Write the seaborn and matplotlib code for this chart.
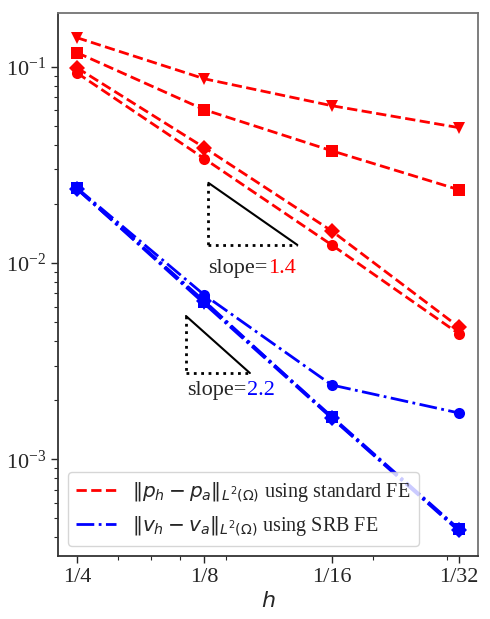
import matplotlib
matplotlib.use("Agg")
import matplotlib.pyplot as plt
import seaborn as sns
from matplotlib.lines import Line2D
from matplotlib.ticker import NullFormatter

# DATA
n_values = [4, 8, 16, 32]
h_labels = ["1/4", "1/8", "1/16", "1/32"]
markers = ["v", "s", "D", "o"]

red_series = [
    [0.1406, 0.0868, 0.0633, 0.0489],
    [0.118, 0.0604, 0.0373, 0.0236],
    [0.0988, 0.0387, 0.01456, 0.00471],
    [0.093, 0.034, 0.01236, 0.00435],
]
blue_series = [
    [0.0239, 0.0062, 0.00162, 0.00043],
    [0.0240, 0.0063, 0.00165, 0.00044],
    [0.0238, 0.0064, 0.00163, 0.000435],
    [0.0241, 0.00687, 0.00239, 0.00172],
]

# slope triangles (x in n, y in error)
tri1_x = [8.18, 13.27]
tri1_y = [0.0256, 0.01236]
tri2_x = [7.24, 10.25]
tri2_y = [0.00537, 0.00275]

sns.set_style("ticks")
plt.rcParams["font.family"] = "serif"
plt.rcParams["font.serif"] = ["Liberation Serif", "DejaVu Serif"]
plt.rcParams["mathtext.fontset"] = "stix"

fig, ax = plt.subplots(figsize=(4.9, 6.19), dpi=100)
fig.subplots_adjust(left=0.118, right=0.976, top=0.979, bottom=0.102)

for vals, m in zip(red_series, markers):
    sns.lineplot(x=n_values, y=vals, ax=ax, color="red", linestyle="--",
                 linewidth=2, marker=m, markersize=8, markeredgewidth=0)
for vals, m in zip(blue_series, markers):
    sns.lineplot(x=n_values, y=vals, ax=ax, color="blue", linestyle="-.",
                 linewidth=2, marker=m, markersize=8, markeredgewidth=0)

ax.set_xscale("log")
ax.set_yscale("log")

# slope triangles
for tx, ty in [(tri1_x, tri1_y), (tri2_x, tri2_y)]:
    ax.plot(tx, ty, color="black", linewidth=1.5)
    ax.plot([tx[0], tx[0]], [ty[0], ty[1]], color="black", linestyle=":", linewidth=2)
    ax.plot([tx[0], tx[1]], [ty[1], ty[1]], color="black", linestyle=":", linewidth=2)

t1 = ax.text(tri1_x[0], 0.00942, "slope=", fontsize=16, va="center", ha="left")
ax.annotate("1.4", xycoords=t1, xy=(1, 0.5), va="center", ha="left",
            fontsize=16, color="red")
t2 = ax.text(7.3, 0.00225, "slope=", fontsize=16, va="center", ha="left")
ax.annotate("2.2", xycoords=t2, xy=(1, 0.5), va="center", ha="left",
            fontsize=16, color="blue")

ax.set_xticks(n_values)
ax.set_xticklabels(h_labels)
ax.xaxis.set_minor_formatter(NullFormatter())
ax.yaxis.set_minor_formatter(NullFormatter())
ax.tick_params(axis="both", which="major", labelsize=16, length=5, width=1)
ax.tick_params(axis="both", which="minor", length=3, width=0.8)

xl = ax.set_xlabel("$h$", fontsize=16)
xl.set_math_fontfamily("dejavusans")

for side, s in ax.spines.items():
    s.set_color("0.2" if side in ("left", "bottom") else "0.45")
    s.set_linewidth(1.3)

handles = [
    Line2D([], [], color="red", linestyle="--", linewidth=2),
    Line2D([], [], color="blue", linestyle="-.", linewidth=2),
]
labels = [
    r"$\|p_h - p_a\|_{L^2(\Omega)}$ using standard FE",
    r"$\|v_h - v_a\|_{L^2(\Omega)}$ using SRB FE",
]
leg = ax.legend(handles, labels, loc="lower left", fontsize=14.5)
for t in leg.get_texts():
    t.set_math_fontfamily("dejavusans")

fig.savefig("out.png", dpi=100)
